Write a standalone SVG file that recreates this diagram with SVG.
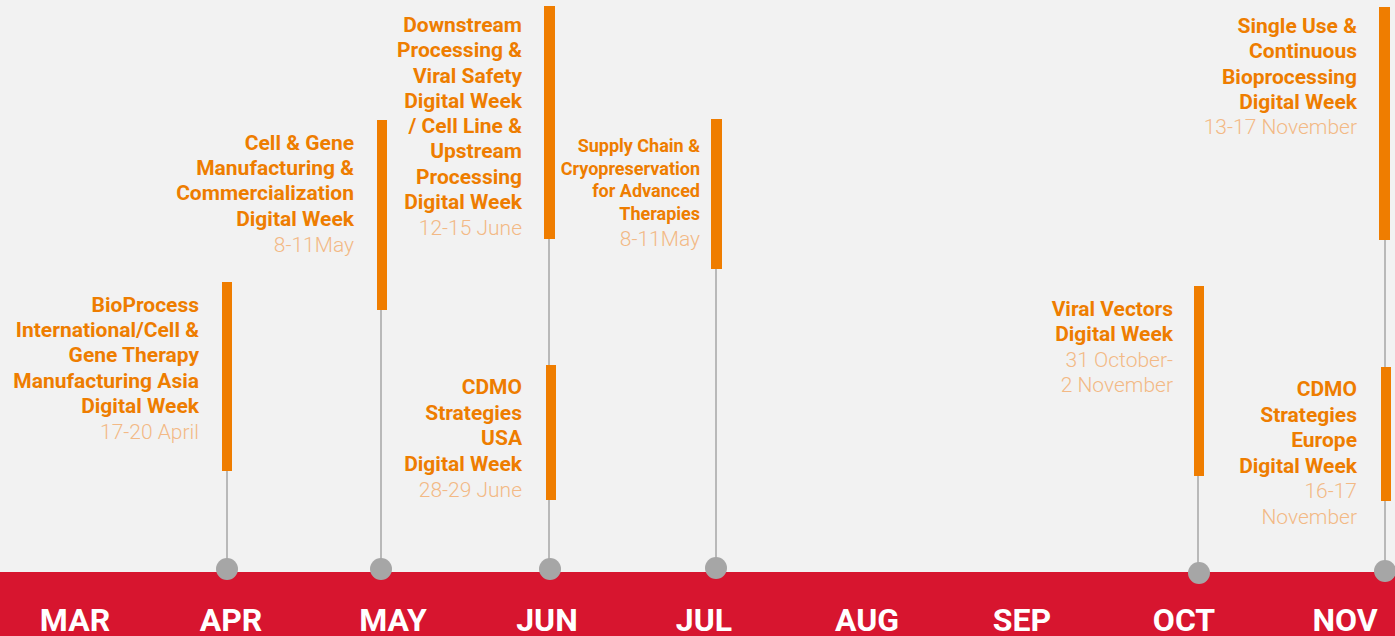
<svg xmlns="http://www.w3.org/2000/svg" width="1395" height="636" viewBox="0 0 1395 636">
<style>
.t{font-family:Roboto,"Liberation Sans",sans-serif;font-weight:700;font-size:21px;fill:#EE7D00;text-anchor:end}
.s{font-size:18px}
.d{font-family:Roboto,"Liberation Sans",sans-serif;font-weight:300;font-size:21px;fill:#F3B985;text-anchor:end}
.m{font-family:Roboto,"Liberation Sans",sans-serif;font-weight:700;font-size:32px;fill:#FFFFFF;text-anchor:middle}
.bar{fill:#EF7D00}
.ln{stroke:#A6A6A6;stroke-width:1.5;fill:none}
.dot{fill:#A6A6A6}
</style>
<rect width="1395" height="636" fill="#F2F2F2"/>
<rect x="0" y="572" width="1395" height="64" fill="#D7152F"/>
<g id="months">
<text class="m" x="75" y="631">MAR</text>
<text class="m" x="231" y="631">APR</text>
<text class="m" x="393" y="631">MAY</text>
<text class="m" x="547" y="631">JUN</text>
<text class="m" x="704" y="631">JUL</text>
<text class="m" x="867" y="631">AUG</text>
<text class="m" x="1022" y="631">SEP</text>
<text class="m" x="1184" y="631">OCT</text>
<text class="m" x="1345" y="631">NOV</text>
</g>
<g id="connectors">
<line class="ln" x1="227" y1="471" x2="227" y2="569"/>
<line class="ln" x1="381" y1="310" x2="381" y2="569"/>
<line class="ln" x1="549" y1="239" x2="549" y2="365"/>
<line class="ln" x1="549" y1="500" x2="549" y2="569"/>
<line class="ln" x1="716" y1="269" x2="716" y2="568"/>
<line class="ln" x1="1198" y1="476" x2="1198" y2="573"/>
<line class="ln" x1="1385" y1="240" x2="1385" y2="367"/>
<line class="ln" x1="1385" y1="501" x2="1385" y2="571"/>
</g>
<g id="dots">
<circle class="dot" cx="227" cy="569" r="11"/>
<circle class="dot" cx="381" cy="569" r="11"/>
<circle class="dot" cx="550" cy="569" r="11"/>
<circle class="dot" cx="716" cy="568" r="11"/>
<circle class="dot" cx="1199" cy="573" r="11"/>
<circle class="dot" cx="1385" cy="571" r="11"/>
</g>
<g id="ev-apr">
<rect class="bar" x="222" y="282" width="10" height="189"/>
<text class="t" x="199" y="312">BioProcess</text>
<text class="t" x="199" y="337">International/Cell &amp;</text>
<text class="t" x="199" y="362">Gene Therapy</text>
<text class="t" x="199" y="388">Manufacturing Asia</text>
<text class="t" x="199" y="413">Digital Week</text>
<text class="d" x="199" y="439">17-20 April</text>
</g>
<g id="ev-may">
<rect class="bar" x="377" y="120" width="10" height="190"/>
<text class="t" x="354" y="150">Cell &amp; Gene</text>
<text class="t" x="354" y="175">Manufacturing &amp;</text>
<text class="t" x="354" y="200">Commercialization</text>
<text class="t" x="354" y="226">Digital Week</text>
<text class="d" x="354" y="252">8-11May</text>
</g>
<g id="ev-jun1">
<rect class="bar" x="544" y="6" width="11" height="233"/>
<text class="t" x="522" y="32">Downstream</text>
<text class="t" x="522" y="57">Processing &amp;</text>
<text class="t" x="522" y="83">Viral Safety</text>
<text class="t" x="522" y="108">Digital Week</text>
<text class="t" x="522" y="133">/ Cell Line &amp;</text>
<text class="t" x="522" y="158">Upstream</text>
<text class="t" x="522" y="184">Processing</text>
<text class="t" x="522" y="209">Digital Week</text>
<text class="d" x="522" y="235">12-15 June</text>
</g>
<g id="ev-jun2">
<rect class="bar" x="546" y="365" width="10" height="135"/>
<text class="t" x="522" y="394">CDMO</text>
<text class="t" x="522" y="420">Strategies</text>
<text class="t" x="522" y="445">USA</text>
<text class="t" x="522" y="471">Digital Week</text>
<text class="d" x="522" y="497">28-29 June</text>
</g>
<g id="ev-jul">
<rect class="bar" x="711" y="119" width="11" height="150"/>
<text class="t s" x="700" y="152">Supply Chain &amp;</text>
<text class="t s" x="700" y="175">Cryopreservation</text>
<text class="t s" x="700" y="197">for Advanced</text>
<text class="t s" x="700" y="220">Therapies</text>
<text class="d" x="700" y="246">8-11May</text>
</g>
<g id="ev-oct">
<rect class="bar" x="1194" y="286" width="10" height="190"/>
<text class="t" x="1173" y="316">Viral Vectors</text>
<text class="t" x="1173" y="341">Digital Week</text>
<text class="d" x="1173" y="367">31 October-</text>
<text class="d" x="1173" y="392">2 November</text>
</g>
<g id="ev-nov1">
<rect class="bar" x="1379" y="7" width="11" height="233"/>
<text class="t" x="1357" y="33">Single Use &amp;</text>
<text class="t" x="1357" y="58">Continuous</text>
<text class="t" x="1357" y="84">Bioprocessing</text>
<text class="t" x="1357" y="109">Digital Week</text>
<text class="d" x="1357" y="134">13-17 November</text>
</g>
<g id="ev-nov2">
<rect class="bar" x="1381" y="367" width="10" height="134"/>
<text class="t" x="1357" y="396">CDMO</text>
<text class="t" x="1357" y="422">Strategies</text>
<text class="t" x="1357" y="447">Europe</text>
<text class="t" x="1357" y="473">Digital Week</text>
<text class="d" x="1357" y="498">16-17</text>
<text class="d" x="1357" y="524">November</text>
</g>
</svg>
